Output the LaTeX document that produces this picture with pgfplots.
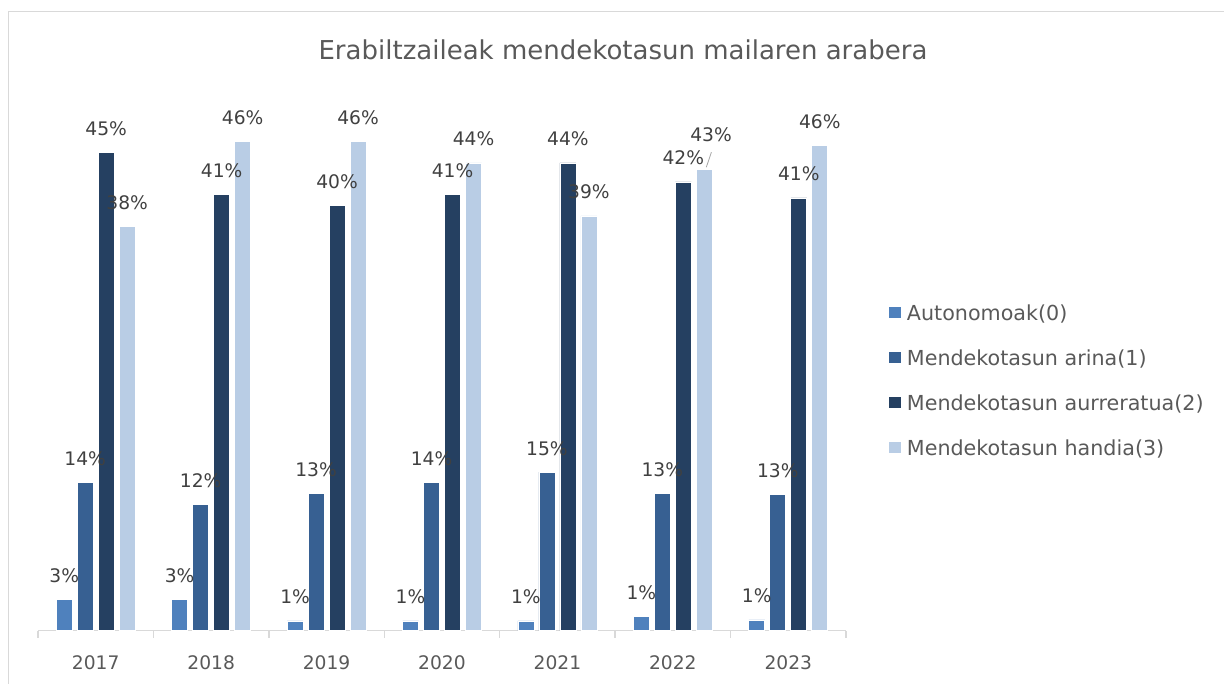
\documentclass[border=0pt]{standalone}
\usepackage{pgfplots}
\pgfplotsset{compat=1.18}
\usepackage{fontspec}
\setmainfont{DejaVu Sans}
\definecolor{cA}{HTML}{4F81BD}
\definecolor{cB}{HTML}{376092}
\definecolor{cC}{HTML}{254061}
\definecolor{cD}{HTML}{B9CDE5}
\definecolor{txt}{HTML}{595959}
\definecolor{lbl}{HTML}{404040}
\definecolor{gridc}{HTML}{D9D9D9}
\begin{document}
\begin{tikzpicture}
\path[use as bounding box] (0pt,0pt) rectangle (918pt,513pt);
\draw[gridc, line width=1.2pt] (6.4pt,0pt) -- (6.4pt,504.4pt) -- (918pt,504.4pt);
\node[anchor=base, text=txt, font=\fontsize{19.5}{23}\selectfont, inner sep=0pt] at (467.25pt,468.5pt) {Erabiltzaileak mendekotasun mailaren arabera};
\begin{axis}[
  at={(28.5pt,40.1pt)}, anchor=south west,
  scale only axis, width=606pt, height=398.6pt,
  ymin=0, ymax=50, xmin=-0.5, xmax=6.5,
  ybar, bar width=12pt,
  clip=false,
  axis y line=none, axis x line*=bottom,
  x axis line style={gridc, line width=1.1pt},
  xtick={0,...,6},
  xticklabels={2017,2018,2019,2020,2021,2022,2023},
  major tick length=0pt,
  minor xtick={-0.5,0.5,...,6.5},
  minor tick length=5.25pt,
  tick align=outside,
  minor tick style={gridc, line width=1.1pt},
  major tick style={draw=none},
  xticklabel style={anchor=base, yshift=-29.5pt, text=txt, font=\fontsize{14}{17}\selectfont},
  /pgf/number format/assume math mode=true,
  point meta=y,
  nodes near coords={\pgfmathprintnumber[fixed,precision=0]{\pgfplotspointmeta}\%},
  every node near coord/.append style={anchor=base, yshift=12.75pt, inner sep=0pt, text=lbl, font=\fontsize{14}{17}\selectfont},
  legend style={at={(1.052,0.469)}, anchor=west, draw=none, fill=none,
    font=\fontsize{15.5}{18}\selectfont, text=txt, row sep=20.5pt, inner sep=0pt,
    nodes={inner sep=0pt},
    /tikz/every odd column/.append style={column sep=4pt}},
  legend cell align=left,
  legend image code/.code={\fill[#1] (0pt,-3.75pt) rectangle (9.5pt,5.75pt);},
]
\addplot[fill=cA, draw=white, line width=0.5pt, bar shift=-23.625pt] coordinates {(0,2.9) (1,2.9) (2,0.9) (3,0.9) (4,0.9) (5,1.3) (6,1.0)};
\addlegendentry{Autonomoak(0)}
\addplot[fill=cB, draw=white, line width=0.5pt, bar shift=-7.875pt] coordinates {(0,13.9) (1,11.9) (2,12.9) (3,13.9) (4,14.9) (5,12.9) (6,12.8)};
\addlegendentry{Mendekotasun arina(1)}
\addplot[fill=cC, draw=white, line width=0.5pt, bar shift=7.875pt] coordinates {(0,45.0) (1,41.0) (2,40.0) (3,41.0) (4,44.0) (5,42.2) (6,40.7)};
\addlegendentry{Mendekotasun aurreratua(2)}
\addplot[fill=cD, draw=white, line width=0.5pt, bar shift=23.625pt] coordinates {(0,38.0) (1,46.0) (2,46.0) (3,44.0) (4,39.0) (6,45.6)};
\addlegendentry{Mendekotasun handia(3)}
\addplot[fill=cD, draw=white, line width=0.5pt, bar shift=23.625pt, forget plot,
  every node near coord/.append style={yshift=8.25pt, xshift=5pt}] coordinates {(5,43.4)};
\draw[gray!70, line width=0.6pt] ([xshift=25.1pt,yshift=1.5pt]axis cs:5,43.4) -- ([xshift=28.9pt,yshift=12.75pt]axis cs:5,43.4);
\end{axis}
\end{tikzpicture}
\end{document}
